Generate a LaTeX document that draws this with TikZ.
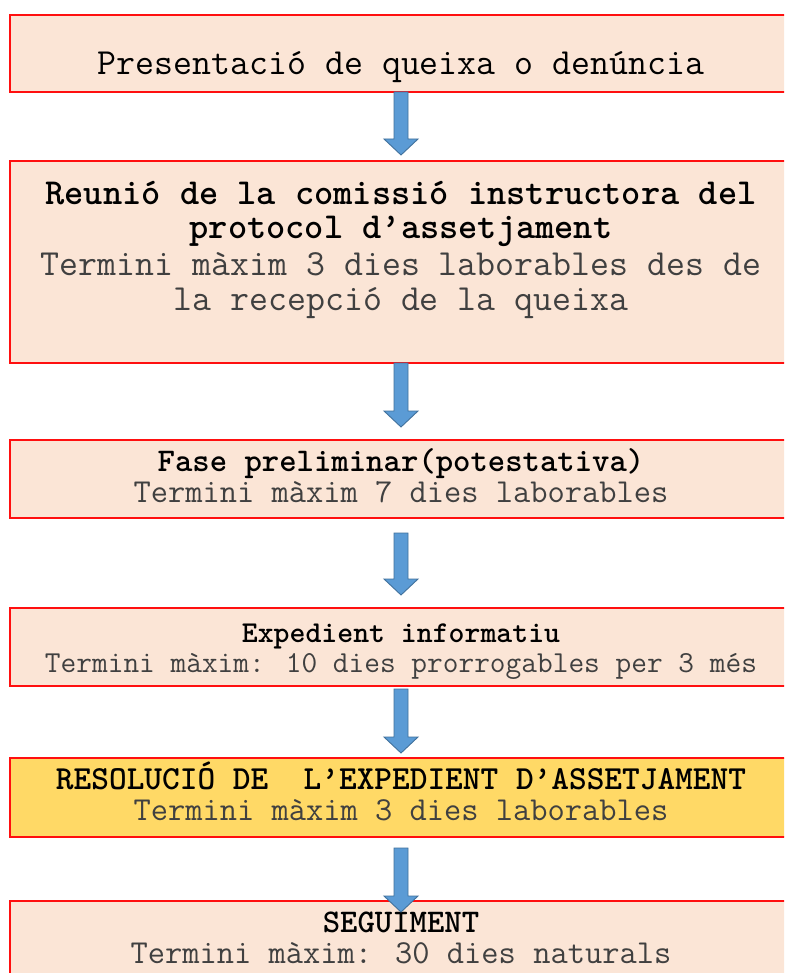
\documentclass[tikz,border=0pt]{standalone}
\usetikzlibrary{calc}
\newcommand{\cour}{\ttfamily}
\definecolor{boxfill}{HTML}{FBE5D6}
\definecolor{yelfill}{HTML}{FFD966}
\definecolor{boxred}{HTML}{FF0F0F}
\definecolor{arrfill}{HTML}{5B9BD5}
\definecolor{arrline}{HTML}{41719C}
\definecolor{graytxt}{HTML}{404040}
\tikzset{
  stagebox/.style={draw=boxred, line width=2pt, fill=boxfill, rectangle, minimum width=782pt, outer sep=0pt, inner sep=0pt},
  yelbox/.style={stagebox, fill=yelfill},
  txt/.style={anchor=base, inner sep=0pt, outer sep=0pt, font=\cour},
  boldtxt/.style={txt, text=black, font=\cour\bfseries},
  greytxt/.style={txt, text=graytxt},
  blkarrow/.style={fill=arrfill, draw=arrline, line width=0.9pt, line join=miter}
}
\newcommand{\blkarrow}[2]{%
  \filldraw[blkarrow] ($(#1)+(-7,0)$) -- ($(#2)+(-7,16)$) -- ($(#2)+(-17,16)$) -- (#2) -- ($(#2)+(17,16)$) -- ($(#2)+(7,16)$) -- ($(#1)+(7,0)$) -- cycle;}
\begin{document}
\begin{tikzpicture}[x=1pt,y=1pt]
\useasboundingbox (0,0) rectangle (784,-973);
\clip (0,0) rectangle (784,-973);
\fill[white] (0,0) rectangle (784,-973);
% boxes
\node[stagebox, minimum height=77pt] (b1) at (401,-53.5) {};
\node[stagebox, minimum height=202pt] (b2) at (401,-262) {};
\node[stagebox, minimum height=78pt] (b3) at (401,-479) {};
\node[stagebox, minimum height=78pt] (b4) at (401,-647) {};
\node[yelbox, minimum height=79pt] (b5) at (401,-797.5) {};
\node[stagebox, minimum height=100pt] (b6) at (401,-951) {};
% texts
\node[txt, text=black] (t1) at (401,-75) {\fontsize{36.8}{38}\selectfont Presentació de queixa o denúncia};
\node[boldtxt] (t2a) at (401,-205) {\fontsize{36.6}{38}\selectfont Reunió de la comissió instructora del};
\node[boldtxt] (t2b) at (401,-239) {\fontsize{36.6}{38}\selectfont protocol d’assetjament};
\node[greytxt] (t2c) at (401,-276) {\fontsize{36.8}{38}\selectfont Termini màxim 3 dies laborables des de};
\node[greytxt] (t2d) at (401,-310) {\fontsize{36.8}{38}\selectfont la recepció de la queixa};
\node[boldtxt] (t3a) at (401,-471) {\fontsize{33.1}{35}\selectfont Fase preliminar(potestativa)};
\node[greytxt] (t3b) at (401,-502) {\fontsize{33.5}{35}\selectfont Termini màxim 7 dies laborables};
\node[boldtxt] (t4a) at (401,-642) {\fontsize{30.3}{32}\selectfont Expedient informatiu};
\node[greytxt] (t4b) at (401,-672) {\fontsize{30.5}{32}\selectfont Termini màxim: 10 dies prorrogables per 3 més};
\node[boldtxt] (t5a) at (401,-789) {\fontsize{33.7}{35}\selectfont RESOLUCIÓ DE\ \ L’EXPEDIENT D’ASSETJAMENT};
\node[greytxt] (t5b) at (401,-820) {\fontsize{33.5}{35}\selectfont Termini màxim 3 dies laborables};
\node[boldtxt] (t6a) at (401,-932) {\fontsize{33.1}{35}\selectfont SEGUIMENT};
\node[greytxt] (t6b) at (401,-963) {\fontsize{33.5}{35}\selectfont Termini màxim: 30 dies naturals};
% arrow end points
\coordinate (a1s) at ($(b1.south)+(0,0)$);
\coordinate (a1e) at ($(b2.north)+(0,6)$);
\coordinate (a2s) at ($(b2.south)+(0,0)$);
\coordinate (a2e) at ($(b3.north)+(0,13)$);
\coordinate (a3s) at ($(b3.south)+(0,-15)$);
\coordinate (a3e) at ($(b4.north)+(0,13)$);
\coordinate (a4s) at ($(b4.south)+(0,-3)$);
\coordinate (a4e) at ($(b5.north)+(0,5)$);
\coordinate (a5s) at ($(b5.south)+(0,-11)$);
\coordinate (a5e) at ($(b6.north)+(0,-11)$);
\blkarrow{a1s}{a1e}
\blkarrow{a2s}{a2e}
\blkarrow{a3s}{a3e}
\blkarrow{a4s}{a4e}
\blkarrow{a5s}{a5e}
\end{tikzpicture}
\end{document}
